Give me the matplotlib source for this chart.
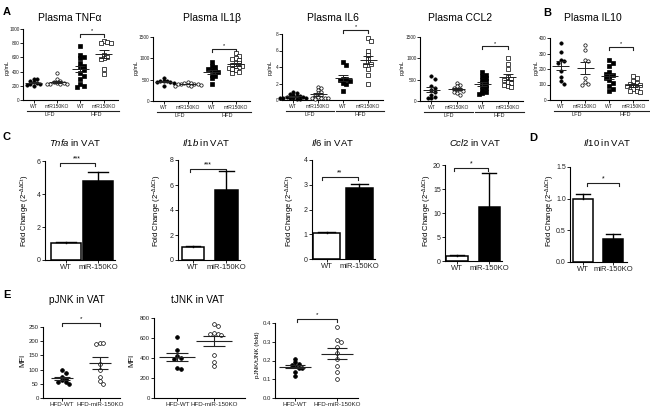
import numpy as np
import matplotlib.pyplot as plt
from matplotlib import transforms

plt.rcParams['font.family'] = 'Liberation Sans'
plt.rcParams['mathtext.fontset'] = 'custom'
plt.rcParams['mathtext.rm'] = 'Liberation Sans'
plt.rcParams['mathtext.it'] = 'Liberation Sans:italic'
plt.rcParams['mathtext.bf'] = 'Liberation Sans:bold'

# ---- panel A/B data (pg/mL) : WT-LFD, KO-LFD, WT-HFD, KO-HFD
tnf_wt_lfd = [300, 290, 270, 250, 240, 230, 220, 210, 200]
tnf_ko_lfd = [380, 290, 270, 250, 240, 240, 230, 230, 220, 220]
tnf_wt_hfd = [760, 640, 600, 590, 520, 480, 460, 420, 380, 340, 300, 220, 200, 190]
tnf_ko_hfd = [830, 810, 800, 800, 640, 610, 590, 580, 440, 360]

il1b_wt_lfd = [540, 480, 470, 460, 450, 440, 430, 360]
il1b_ko_lfd = [450, 430, 420, 410, 400, 400, 390, 380, 370, 360, 350]
il1b_wt_hfd = [910, 820, 800, 750, 730, 700, 680, 620, 580, 540, 390]
il1b_ko_hfd = [1120, 1060, 1000, 990, 960, 900, 880, 850, 830, 810, 800, 780, 760, 720, 690, 650]

il6_wt_lfd = [1.0, 0.9, 0.7, 0.6, 0.5, 0.5, 0.4, 0.4, 0.3, 0.3, 0.3, 0.2, 0.2, 0.1, 0.1]
il6_ko_lfd = [1.6, 1.5, 1.2, 1.0, 0.8, 0.6, 0.5, 0.4, 0.3, 0.3, 0.2, 0.2, 0.1]
il6_wt_hfd = [4.6, 4.2, 2.6, 2.5, 2.4, 2.3, 2.1, 1.9, 1.1]
il6_ko_hfd = [7.5, 7.2, 5.9, 5.5, 5.0, 4.6, 4.4, 4.2, 3.8, 3.0, 2.0]

ccl2_wt_lfd = [580, 510, 360, 300, 260, 210, 150, 100, 80, 60]
ccl2_ko_lfd = [420, 370, 340, 300, 280, 260, 240, 220, 180, 140]
ccl2_wt_hfd = [690, 620, 580, 540, 500, 460, 420, 380, 340, 300, 260, 200, 180, 160]
ccl2_ko_hfd = [1000, 870, 760, 560, 520, 490, 450, 420, 380, 340, 320]

il10_wt_lfd = [370, 310, 260, 250, 240, 190, 150, 120, 105]
il10_ko_lfd = [355, 320, 260, 250, 140, 115, 105, 100]
il10_wt_hfd = [255, 240, 220, 180, 160, 165, 155, 140, 130, 110, 90, 70, 60]
il10_ko_hfd = [155, 140, 125, 110, 105, 100, 95, 90, 80, 70, 60, 55, 50]

a_xlabels = ['WT', 'miR150KO', 'WT', 'miR150KO']
a_groups = ['LFD', 'HFD']

# ---- panel C/D data (fold change)
genes = ['Tnfa', 'Il1b', 'Il6', 'Ccl2', 'Il10']
bar_wt = [1.05, 1.05, 1.05, 1.0, 1.0]
bar_wt_err = [0.07, 0.04, 0.06, 0.3, 0.07]
bar_ko = [4.8, 5.6, 2.85, 11.3, 0.37]
bar_ko_err = [0.55, 1.5, 0.2, 7.0, 0.08]
bar_stars = ['***', '***', '**', '*', '*']
bar_xlabels = ['WT', 'miR-150KO']

# ---- panel E data
pjnk_wt = [100, 88, 75, 68, 62, 55, 55, 50]
pjnk_ko = [195, 192, 190, 120, 100, 75, 60, 50]
tjnk_wt = [610, 480, 420, 400, 390, 300, 290]
tjnk_ko = [740, 720, 650, 640, 640, 630, 430, 360, 320]
ratio_wt = [0.21, 0.19, 0.18, 0.175, 0.17, 0.16, 0.16, 0.14, 0.12]
ratio_ko = [0.38, 0.31, 0.30, 0.27, 0.24, 0.21, 0.17, 0.14, 0.10]
e_xlabels = ['HFD-WT', 'HFD-miR-150KO']

W, H = 650, 409
fig = plt.figure(figsize=(W / 100, H / 100), dpi=100)


def add_ax(box, xlim, ylim):
    x0, y0, x1, y1 = box
    ax = fig.add_axes([x0 / W, 1 - y1 / H, (x1 - x0) / W, (y1 - y0) / H])
    ax.set_xlim(xlim)
    ax.set_ylim(ylim)
    for s in ['top', 'right']:
        ax.spines[s].set_visible(False)
    for s in ['left', 'bottom']:
        ax.spines[s].set_linewidth(0.8)
    ax.patch.set_alpha(0)
    ax.tick_params(length=2, width=0.7, pad=1, colors='#222222')
    ax.pxx = (x1 - x0) / (xlim[1] - xlim[0])
    ax.pxy = (y1 - y0) / (ylim[1] - ylim[0])
    ax.hpx = y1 - y0
    return ax


def ftext(x, y, s, **kw):
    kw.setdefault('ha', 'center')
    kw.setdefault('va', 'center')
    fig.text(x / W, 1 - y / H, s, **kw)


def swarm(vals, ax, step):
    # spread overlapping points sideways (pixel space)
    placed, out = [], []
    for v in vals:
        y = v * ax.pxy
        for k in (0, 1, -1, 2, -2, 3, -3, 4, -4, 5, -5):
            x = k * step
            if all((x - px) ** 2 + (y - py) ** 2 >= step ** 2 for px, py in placed):
                break
        placed.append((x, y))
        out.append(x / ax.pxx)
    return np.array(out)


def mean_sem(ax, xc, vals, mhalf, shalf, lw=0.7):
    m = np.mean(vals)
    s = np.std(vals, ddof=1) / np.sqrt(len(vals))
    mh, sh = mhalf / ax.pxx, shalf / ax.pxx
    kw = dict(color='#222222', lw=lw, zorder=5, solid_capstyle='butt')
    ax.plot([xc - mh, xc + mh], [m, m], **kw)
    ax.plot([xc - sh, xc + sh], [m + s, m + s], **kw)
    ax.plot([xc - sh, xc + sh], [m - s, m - s], **kw)
    ax.plot([xc, xc], [m - s, m + s], **kw)


def bracket(ax, x0, x1, y, star, fs, drop=3, gap=0.5):
    d = drop / ax.pxy
    ax.plot([x0, x0, x1, x1], [y - d, y, y, y - d], color='#222222', lw=0.8, clip_on=False)
    ax.text((x0 + x1) / 2, y + gap / ax.pxy, star, ha='center', va='bottom',
            fontsize=fs, clip_on=False)


a_markers = [('o', 'k'), ('o', 'white'), ('s', 'k'), ('s', 'white')]


def dot_panel(box, ylim, yticks, groups, by, title, tx, lx):
    ax = add_ax(box, (-0.45, 3.6), ylim)
    ax.set_yticks(yticks)
    ax.set_yticklabels([str(t) for t in yticks], fontsize=3.4)
    ax.tick_params(axis='y', pad=0.5)
    ax.set_xticks(range(4))
    ax.set_xticklabels(a_xlabels, fontsize=3.6)
    for i, (vals, (mk, fc)) in enumerate(zip(groups, a_markers)):
        off = swarm(vals, ax, 3.3)
        ax.plot(i + off, vals, ls='none', marker=mk, ms=2.4, mfc=fc, mec='k',
                mew=0.5, clip_on=False, zorder=4)
        mean_sem(ax, i, vals, 8.5, 5)
    tr = transforms.blended_transform_factory(ax.transData, ax.transAxes)
    for (a, b), lab in zip([(0, 1), (2, 3)], a_groups):
        ax.plot([a - 0.3, b + 0.65], [-11 / ax.hpx] * 2, transform=tr, color='#222222',
                lw=0.8, clip_on=False)
        ax.text((a + b) / 2 + 0.17, -14.5 / ax.hpx, lab, transform=tr, ha='center',
                va='center', fontsize=4, color='#222222')
    bracket(ax, 2, 3, by, '*', 4)
    ftext(tx, 18, title, fontsize=7.5)
    ftext(lx, 68, 'pg/mL', fontsize=3.8, rotation=90)
    return ax


dot_panel((23, 29, 118, 100), (0, 1000), [0, 200, 400, 600, 800, 1000],
          [tnf_wt_lfd, tnf_ko_lfd, tnf_wt_hfd, tnf_ko_hfd], 930, 'Plasma TNFα', 70, 7)
dot_panel((153, 37, 250, 101), (0, 1500), [0, 500, 1000, 1500],
          [il1b_wt_lfd, il1b_ko_lfd, il1b_wt_hfd, il1b_ko_hfd], 1230, 'Plasma IL1β', 212, 136)
dot_panel((282, 34, 383, 100), (0, 8), [0, 2, 4, 6, 8],
          [il6_wt_lfd, il6_ko_lfd, il6_wt_hfd, il6_ko_hfd], 8.5, 'Plasma IL6', 333, 270)
dot_panel((420, 37, 523, 101), (0, 1500), [0, 500, 1000, 1500],
          [ccl2_wt_lfd, ccl2_ko_lfd, ccl2_wt_hfd, ccl2_ko_hfd], 1280, 'Plasma CCL2', 460, 402)
dot_panel((550, 38, 648, 100), (0, 400), [0, 100, 200, 300, 400],
          [il10_wt_lfd, il10_ko_lfd, il10_wt_hfd, il10_ko_hfd], 345, 'Plasma IL10', 593, 536)

# ---- bar panels
bar_boxes = [(45, 161, 115, 260), (178, 160, 240, 260), (312, 160, 375, 259),
             (445, 165, 502, 261), (570, 167, 627, 262)]
bar_xlims = [(-0.66, 1.53), (-0.45, 1.41), (-0.44, 1.47), (-0.375, 1.4), (-0.43, 1.47)]
bar_ylims = [(0, 6), (0, 8), (0, 4), (0, 20), (0, 1.5)]
bar_yticks = [[0, 2, 4, 6], [0, 2, 4, 6, 8], [0, 1, 2, 3, 4], [0, 5, 10, 15, 20],
              [0.0, 0.5, 1.0, 1.5]]
bar_widths = [0.94, 0.67, 0.8, 0.66, 0.67]
bar_brackets = [(-0.2, 0.9, 5.88), (-0.1, 1.0, 7.3), (-0.15, 0.95, 3.31),
                (-0.1, 0.97, 19.4), (0.15, 1.2, 1.25)]
bar_title_x = [75, 206, 333, 475, 607]
bar_ylab_x = [25, 157, 290, 427, 550]

for i, g in enumerate(genes):
    ax = add_ax(bar_boxes[i], bar_xlims[i], bar_ylims[i])
    w = bar_widths[i]
    ax.bar([0, 1], [bar_wt[i], bar_ko[i]], w, color=['white', 'black'],
           edgecolor='black', lw=1.1, zorder=2)
    for xc, v, e in [(0, bar_wt[i], bar_wt_err[i]), (1, bar_ko[i], bar_ko_err[i])]:
        ch = 0.33 * w
        ax.plot([xc, xc], [v, v + e], color='k', lw=1.0, zorder=3, clip_on=False)
        ax.plot([xc - ch, xc + ch], [v + e, v + e], color='k', lw=1.0, zorder=3, clip_on=False)
    ax.set_yticks(bar_yticks[i])
    if g == 'Il10':
        ax.set_yticklabels(['%.1f' % t for t in bar_yticks[i]], fontsize=5)
    else:
        ax.set_yticklabels([str(t) for t in bar_yticks[i]], fontsize=5)
    ax.set_xticks([0, 1])
    ax.set_xticklabels(bar_xlabels, fontsize=5.5)
    b0, b1, by = bar_brackets[i]
    bracket(ax, b0, b1, by, bar_stars[i], 5, drop=3, gap=0.3)
    ftext(bar_title_x[i], 143, r'$\mathit{%s}$ in VAT' % g, fontsize=6.8)
    ftext(bar_ylab_x[i], 211, r'Fold Change (2$^{-\Delta\Delta \mathrm{Ct}}$)', fontsize=5.5,
          rotation=90)

# ---- panel E
e_boxes = [(43, 327, 120, 398), (154, 318, 245, 398), (275, 323, 358, 398)]
e_xlims = [(-0.5, 1.53), (-0.64, 1.85), (-0.48, 1.5)]
e_ylims = [(0, 250), (0, 800), (0, 0.4)]
e_yticks = [[0, 50, 100, 150, 200, 250], [0, 200, 400, 600, 800], [0.0, 0.1, 0.2, 0.3, 0.4]]
e_data = [(pjnk_wt, pjnk_ko), (tjnk_wt, tjnk_ko), (ratio_wt, ratio_ko)]
e_half = [(11, 8), (18, 11), (16, 10)]

e_axes = []
for i in range(3):
    ax = add_ax(e_boxes[i], e_xlims[i], e_ylims[i])
    wt, ko = e_data[i]
    for xc, vals, fc in [(0, wt, 'k'), (1, ko, 'white')]:
        off = swarm(vals, ax, 3.6)
        ax.plot(xc + off, vals, ls='none', marker='o', ms=2.7, mfc=fc, mec='k',
                mew=0.5, clip_on=False, zorder=4)
        mean_sem(ax, xc, vals, e_half[i][0], e_half[i][1], lw=0.8)
    ax.set_yticks(e_yticks[i])
    if i == 2:
        ax.set_yticklabels(['%.1f' % t for t in e_yticks[i]], fontsize=4.3)
    else:
        ax.set_yticklabels([str(t) for t in e_yticks[i]], fontsize=4.3)
    ax.set_xticks([0, 1])
    ax.set_xticklabels(e_xlabels, fontsize=4.5)
    e_axes.append(ax)

bracket(e_axes[0], 0, 1, 264, '*', 4.5, drop=3, gap=2)
bracket(e_axes[2], 0.05, 1.0, 0.42, '*', 4.5, drop=3, gap=2)
ftext(77, 300, 'pJNK in VAT', fontsize=7.2)
ftext(198, 300, 'tJNK in VAT', fontsize=7.2)
ftext(23, 360, 'MFI', fontsize=5.5, rotation=90)
ftext(132, 360, 'MFI', fontsize=5.5, rotation=90)
ftext(258, 355, 'pJNK/tJNK (fold)', fontsize=4.5, rotation=90)

# panel letters
for lab, x, y in [('A', 7, 12), ('B', 547, 13), ('C', 6, 137), ('D', 533, 138), ('E', 7, 295)]:
    ftext(x, y, lab, fontsize=8, fontweight='bold')

fig.savefig('out.png', dpi=100)
